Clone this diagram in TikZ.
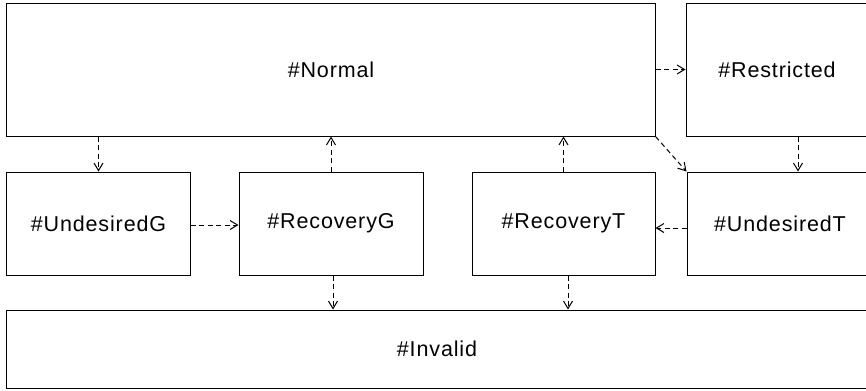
\documentclass[tikz,border=0pt]{standalone}
\usepackage{fontspec}
\setmainfont{Liberation Sans}
\usetikzlibrary{arrows.meta,calc}
\begin{document}
\begin{tikzpicture}[x=1bp,y=-1bp,
  state/.style={draw=black,line width=1bp,rectangle,inner sep=0pt,
    font=\fontsize{21.5bp}{26bp}\selectfont\addfontfeature{LetterSpace=4}},
  flow/.style={draw=black,line width=1bp,dash pattern=on 5bp off 3.5bp,
    -{Straight Barb[length=7.5bp,width=9bp,line width=1bp]}}]
  \clip (0,0) rectangle (866,390);
  \fill[white] (0,0) rectangle (866,390);

  % top row
  \node[state,minimum width=648bp,minimum height=133bp] (nor) at (331,69.5) {\#Normal};
  \node[state,minimum width=182bp,minimum height=133bp] (res) at (777,69.5) {\#Restricted};

  % middle row
  \node[state,minimum width=183bp,minimum height=103bp] (ug) at (98.5,223.5) {\#UndesiredG};
  \node[state,minimum width=184bp,minimum height=103bp] (rg) at (331,223.5) {\#RecoveryG};
  \node[state,minimum width=183bp,minimum height=103bp] (rt) at (563.5,223.5) {\#RecoveryT};
  \node[state,minimum width=186bp,minimum height=103bp] (ut) at (780,223.5) {\#UndesiredT};

  % bottom row
  \node[state,minimum width=860bp,minimum height=78bp] (inv) at (437,349) {\#Invalid};

  % transitions
  \draw[flow] (ug.north |- nor.south) -- (ug.north);
  \draw[flow] (rg.north) -- (rg.north |- nor.south);
  \draw[flow] (rt.north) -- (rt.north |- nor.south);
  \draw[flow] (nor.east) -- (nor.east -| res.west);
  \draw[flow] (nor.south east) -- (ut.north west);
  \draw[flow] ([xshift=21bp]res.south) -- ([xshift=21bp]res.south |- ut.north);
  \draw[flow] (ug.east |- 0,225) -- (rg.west |- 0,225);
  \draw[flow] (ut.west |- 0,228) -- (rt.east |- 0,228);
  \draw[flow] ([xshift=2bp]rg.south) -- ([xshift=2bp]rg.south |- inv.north);
  \draw[flow] ([xshift=4.5bp]rt.south) -- ([xshift=4.5bp]rt.south |- inv.north);
\end{tikzpicture}
\end{document}
